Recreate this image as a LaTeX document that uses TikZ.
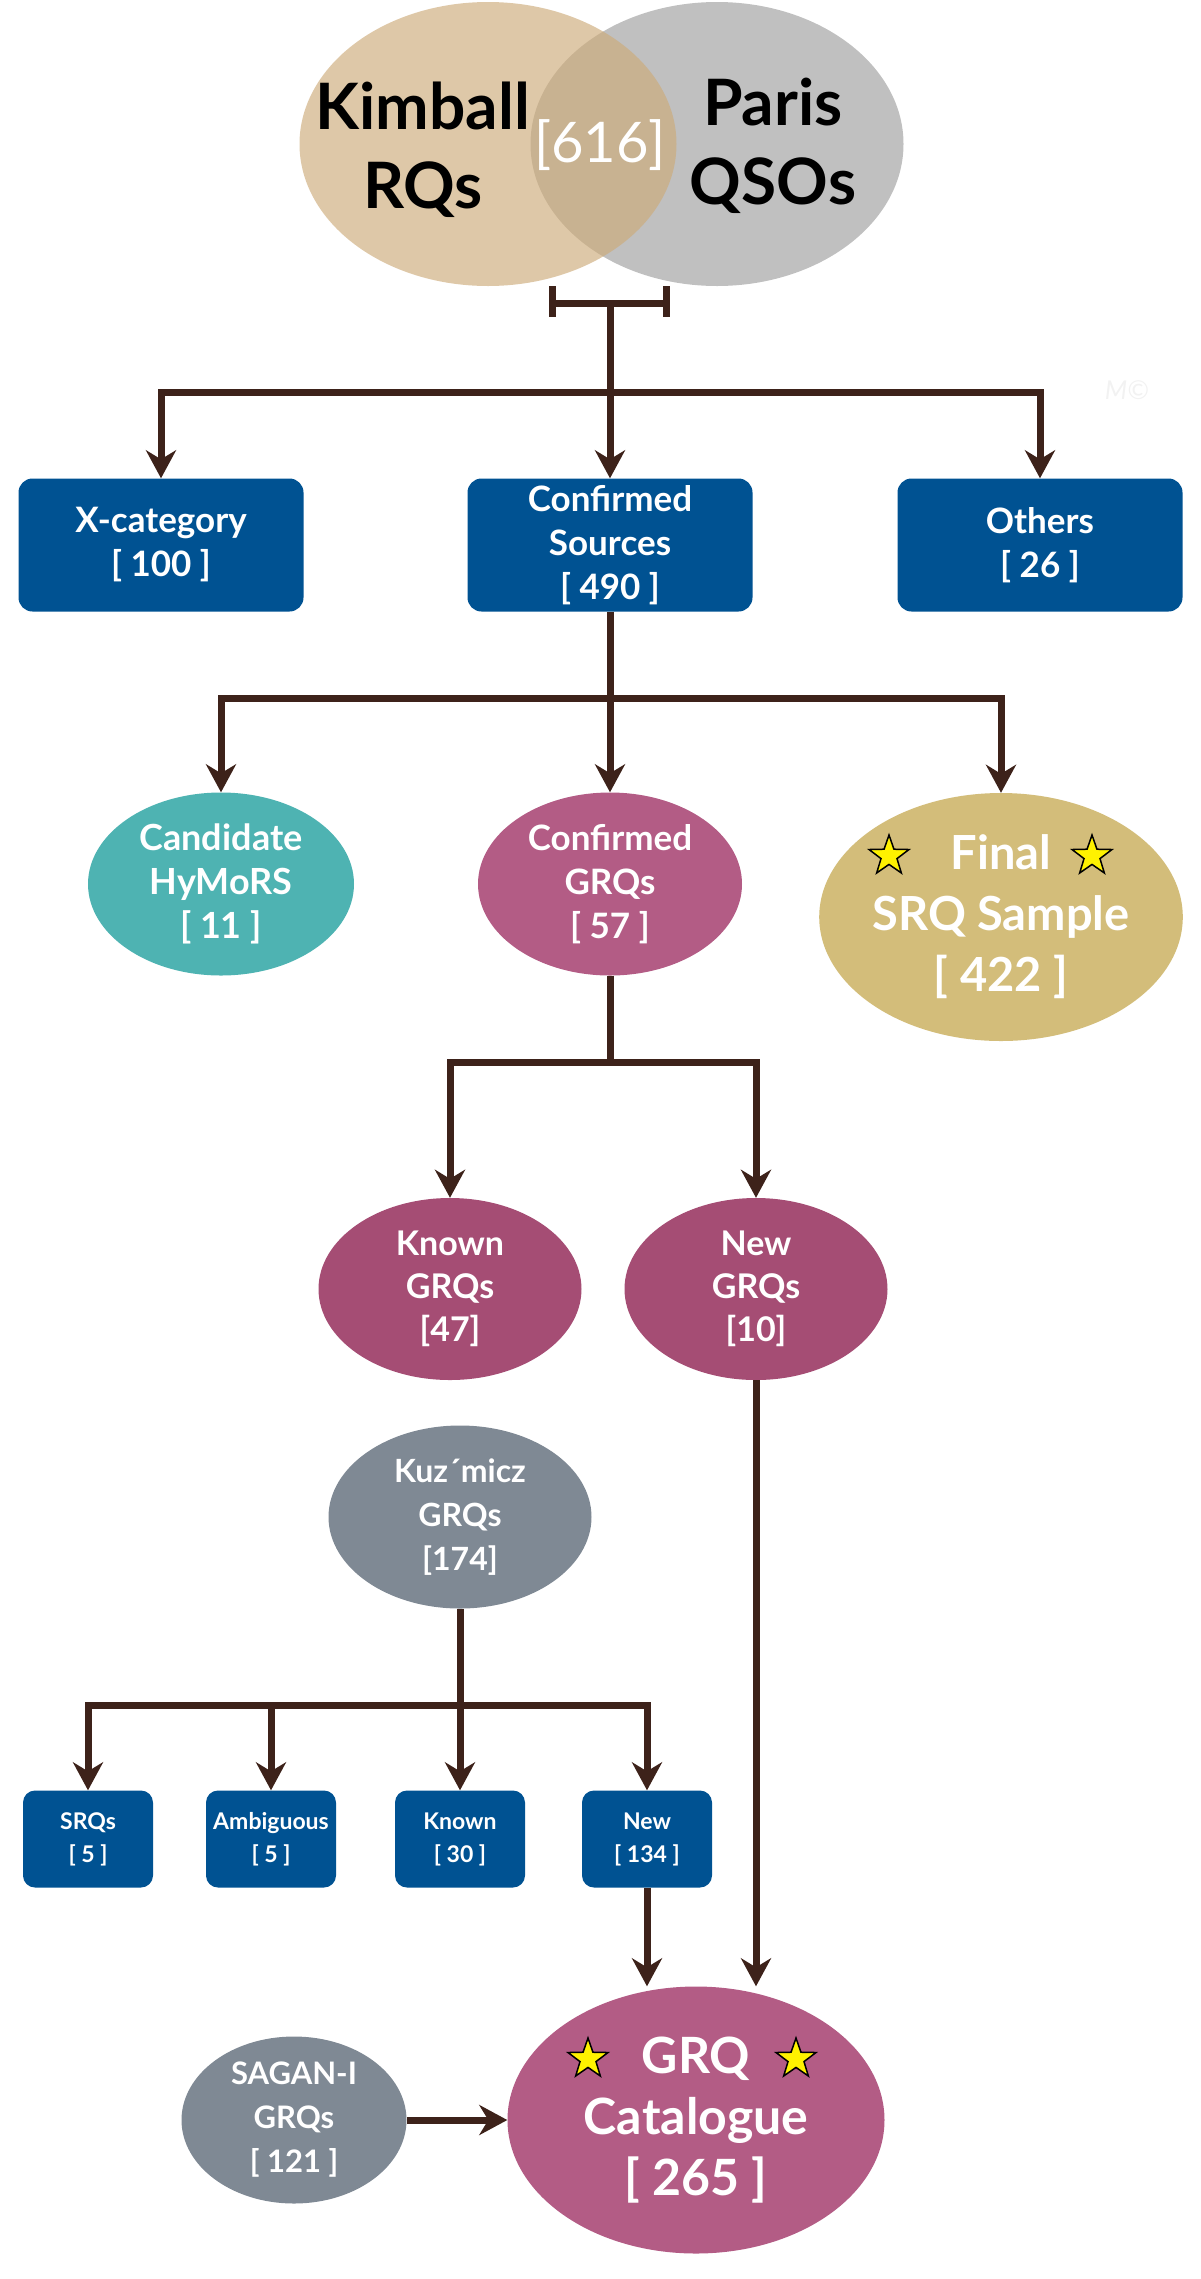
\documentclass[tikz,border=0pt]{standalone}
\usepackage{fontspec}
\setmainfont{Lato}
\usepackage{xcolor}
\usetikzlibrary{shapes.geometric,arrows.meta}
\definecolor{linkbrown}{RGB}{61,34,26}
\definecolor{boxblue}{RGB}{0,82,146}
\definecolor{kimtan}{RGB}{205,171,121}
\definecolor{parisgrey}{RGB}{192,192,192}
\definecolor{hymteal}{RGB}{78,179,178}
\definecolor{grqpink}{RGB}{179,92,133}
\definecolor{grqdark}{RGB}{165,77,116}
\definecolor{srqgold}{RGB}{211,189,122}
\definecolor{kuzgrey}{RGB}{127,137,148}

\begin{document}
\begin{tikzpicture}[x=1pt, y=-1pt,
  link/.style={draw=linkbrown, line width=7pt},
  arr/.style={link, -{Stealth[length=28pt, width=30pt, inset=9pt]}},
  bigbox/.style={rectangle, rounded corners=14pt, fill=boxblue, text=white, align=center, inner sep=0pt,
    minimum width=285pt, minimum height=133pt, font=\fontsize{35}{44}\selectfont\bfseries},
  smallbox/.style={rectangle, rounded corners=12pt, fill=boxblue, text=white, align=center, inner sep=0pt,
    minimum width=130pt, minimum height=97pt, font=\fontsize{23}{33}\selectfont\bfseries},
  blob/.style={ellipse, text=white, align=center, inner sep=0pt},
  goldstar/.style={star, star points=5, star point ratio=2.5, fill=yellow, draw=black, line width=1.5pt,
    minimum size=42pt, inner sep=0pt}]
\useasboundingbox (0,0) rectangle (1200,2279);

\node[ellipse, fill=parisgrey, minimum width=373pt, minimum height=284pt] (paris) at (717,144) {};
\node[ellipse, fill=kimtan, fill opacity=.65, minimum width=377pt, minimum height=284pt] (kimball) at (488,144) {};
\node[align=center, font=\fontsize{64}{79}\selectfont\bfseries] (kimtxt) at (423,150) {Kimball\\RQs};
\node[align=center, font=\fontsize{64}{79}\selectfont\bfseries] (paristxt) at (773,146) {Paris\\QSOs};
\node[text=white, font=\fontsize{56}{56}\selectfont] (both) at (600,145) {[616]};
\node[text=black!5, font=\itshape\fontsize{26}{26}\selectfont] (wmark) at (1127,390) {M\textcopyright};

\coordinate (barL) at (552,303);
\coordinate (barR) at (666,303);
\coordinate (venn) at (610,303);
\coordinate (split1) at (610,392);
\draw[link] (barL) -- (barR) (barL) ++(0,-17) -- ++(0,31) (barR) ++(0,-17) -- ++(0,31);
\draw[link] (venn) -- (split1);

\node[bigbox] (xcat) at (161,545) {X-category\\{[ 100 ]}};
\node[bigbox] (conf) at (610,545) {Confirmed\\Sources\\{[ 490 ]}};
\node[bigbox] (others) at (1040,545) {Others\\{[ 26 ]}};
\draw[arr] (split1) -| (xcat.north);
\draw[arr] (split1) -- (conf.north);
\draw[arr] (split1) -| (others.north);

\coordinate (split2) at (610,698);
\node[blob, fill=hymteal, minimum width=266pt, minimum height=183pt, font=\fontsize{36}{44}\selectfont\bfseries] (hymors) at (221,884) {Candidate\\HyMoRS\\{[ 11 ]}};
\node[blob, fill=grqpink, minimum width=264pt, minimum height=183pt, font=\fontsize{35}{44}\selectfont\bfseries] (cgrq) at (610,884) {Confirmed\\GRQs\\{[ 57 ]}};
\node[blob, fill=srqgold, minimum width=359pt, minimum height=248pt, font=\fontsize{47}{61}\selectfont\bfseries] (srq) at (1001,917) {Final\\SRQ Sample\\{[ 422 ]}};
\node[goldstar] (srqstarL) at (889,856) {};
\node[goldstar] (srqstarR) at (1092,856) {};
\draw[link] (conf.south) -- (split2);
\draw[arr] (split2) -| (hymors.north);
\draw[arr] (split2) -- (cgrq.north);
\draw[arr] (split2) -| (srq.north);

\coordinate (split3) at (610,1062);
\node[blob, fill=grqdark, minimum width=263pt, minimum height=182pt, font=\fontsize{34}{43}\selectfont\bfseries] (known) at (450,1289) {Known\\GRQs\\{[47]}};
\node[blob, fill=grqdark, minimum width=263pt, minimum height=182pt, font=\fontsize{34}{43}\selectfont\bfseries] (newg) at (756,1289) {New\\GRQs\\{[10]}};
\draw[link] (cgrq.south) -- (split3);
\draw[arr] (split3) -| (known.north);
\draw[arr] (split3) -| (newg.north);

\coordinate (split4) at (460,1705);
\node[blob, fill=kuzgrey, minimum width=263pt, minimum height=183pt, font=\fontsize{32}{44}\selectfont\bfseries] (kuz) at (460,1517) {Kuz´micz\\GRQs\\{[174]}};
\node[smallbox] (srqs) at (88,1839) {SRQs\\{[ 5 ]}};
\node[smallbox] (amb) at (271,1839) {Ambiguous\\{[ 5 ]}};
\node[smallbox] (knownk) at (460,1839) {Known\\{[ 30 ]}};
\node[smallbox] (newk) at (647,1839) {New\\{[ 134 ]}};
\draw[link] (kuz.south) -- (split4);
\draw[arr] (split4) -| (srqs.north);
\draw[arr] (split4) -| (amb.north);
\draw[arr] (split4) -- (knownk.north);
\draw[arr] (split4) -| (newk.north);

\node[blob, fill=grqpink, minimum width=377pt, minimum height=267pt, font=\fontsize{50}{61}\selectfont\bfseries] (cat) at (696,2120) {GRQ\\Catalogue\\{[ 265 ]}};
\node[goldstar] (catstarL) at (588,2059) {};
\node[goldstar] (catstarR) at (796,2059) {};
\node[blob, fill=kuzgrey, minimum width=225pt, minimum height=167pt, font=\fontsize{31}{44}\selectfont\bfseries] (sagan) at (294,2120) {SAGAN-I\\GRQs\\{[ 121 ]}};
\draw[arr] (newk.south) -- (newk.south |- cat.north);
\draw[arr] (newg.south) -- (newg.south |- cat.north);
\draw[arr] (sagan.east) -- (cat.west);
\end{tikzpicture}
\end{document}
